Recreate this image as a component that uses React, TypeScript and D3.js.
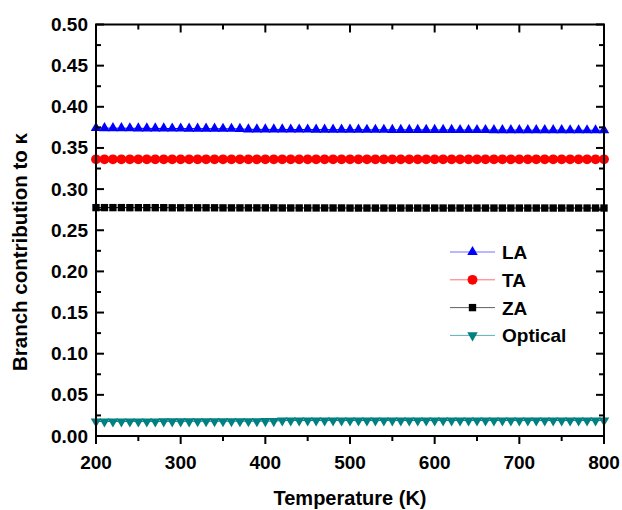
import { useEffect, useRef } from 'react';
import * as d3 from 'd3';

// Temperature points (K), one every 10 K
const temperature = [
  200, 210, 220, 230, 240, 250, 260, 270, 280, 290,
  300, 310, 320, 330, 340, 350, 360, 370, 380, 390,
  400, 410, 420, 430, 440, 450, 460, 470, 480, 490,
  500, 510, 520, 530, 540, 550, 560, 570, 580, 590,
  600, 610, 620, 630, 640, 650, 660, 670, 680, 690,
  700, 710, 720, 730, 740, 750, 760, 770, 780, 790,
  800,
];

const laValues = [
  0.3742, 0.3741, 0.3740, 0.3740, 0.3739, 0.3738, 0.3738, 0.3737, 0.3737, 0.3736,
  0.3736, 0.3735, 0.3735, 0.3734, 0.3734, 0.3733, 0.3733, 0.3732, 0.3726, 0.3726,
  0.3725, 0.3725, 0.3725, 0.3724, 0.3724, 0.3724, 0.3723, 0.3723, 0.3723, 0.3722,
  0.3722, 0.3722, 0.3721, 0.3721, 0.3721, 0.3720, 0.3720, 0.3720, 0.3720, 0.3719,
  0.3719, 0.3719, 0.3719, 0.3718, 0.3718, 0.3718, 0.3718, 0.3717, 0.3717, 0.3717,
  0.3717, 0.3716, 0.3716, 0.3716, 0.3716, 0.3716, 0.3715, 0.3715, 0.3715, 0.3715,
  0.3715,
];

const taValues = [
  0.3362, 0.3362, 0.3362, 0.3362, 0.3362, 0.3362, 0.3362, 0.3362, 0.3362, 0.3362,
  0.3362, 0.3362, 0.3362, 0.3362, 0.3362, 0.3362, 0.3362, 0.3362, 0.3362, 0.3362,
  0.3362, 0.3362, 0.3362, 0.3362, 0.3362, 0.3362, 0.3362, 0.3362, 0.3362, 0.3362,
  0.3362, 0.3362, 0.3362, 0.3362, 0.3362, 0.3362, 0.3362, 0.3362, 0.3362, 0.3362,
  0.3362, 0.3362, 0.3362, 0.3362, 0.3362, 0.3362, 0.3362, 0.3362, 0.3362, 0.3362,
  0.3362, 0.3362, 0.3362, 0.3362, 0.3362, 0.3362, 0.3362, 0.3362, 0.3362, 0.3362,
  0.3362,
];

const zaValues = [
  0.2775, 0.2775, 0.2775, 0.2775, 0.2774, 0.2774, 0.2774, 0.2774, 0.2774, 0.2773,
  0.2773, 0.2773, 0.2773, 0.2773, 0.2773, 0.2772, 0.2772, 0.2772, 0.2772, 0.2772,
  0.2772, 0.2772, 0.2771, 0.2771, 0.2771, 0.2771, 0.2771, 0.2771, 0.2771, 0.2771,
  0.2770, 0.2770, 0.2770, 0.2770, 0.2770, 0.2770, 0.2770, 0.2770, 0.2770, 0.2770,
  0.2770, 0.2770, 0.2770, 0.2770, 0.2770, 0.2770, 0.2770, 0.2770, 0.2770, 0.2770,
  0.2770, 0.2770, 0.2770, 0.2770, 0.2770, 0.2770, 0.2770, 0.2770, 0.2770, 0.2770,
  0.2770,
];

const opticalValues = [
  0.0176, 0.0176, 0.0176, 0.0176, 0.0177, 0.0177, 0.0177, 0.0177, 0.0178, 0.0178,
  0.0178, 0.0178, 0.0179, 0.0179, 0.0179, 0.0179, 0.0180, 0.0180, 0.0180, 0.0180,
  0.0181, 0.0181, 0.0188, 0.0188, 0.0188, 0.0188, 0.0188, 0.0188, 0.0188, 0.0188,
  0.0188, 0.0188, 0.0188, 0.0188, 0.0188, 0.0188, 0.0188, 0.0188, 0.0188, 0.0188,
  0.0188, 0.0188, 0.0188, 0.0188, 0.0188, 0.0188, 0.0188, 0.0188, 0.0188, 0.0188,
  0.0188, 0.0188, 0.0188, 0.0188, 0.0188, 0.0188, 0.0188, 0.0188, 0.0188, 0.0188,
  0.0188,
];

const xTicks = [200, 300, 400, 500, 600, 700, 800];
const xMinorTicks = [250, 350, 450, 550, 650, 750];
const yTicks = [0, 0.05, 0.1, 0.15, 0.2, 0.25, 0.3, 0.35, 0.4, 0.45, 0.5];
const yMinorTicks = [0.025, 0.075, 0.125, 0.175, 0.225, 0.275, 0.325, 0.375, 0.425, 0.475];

const series = [
  { name: 'LA', values: laValues, color: '#0000ff', legendLine: '#7070ff', marker: 'up' },
  { name: 'TA', values: taValues, color: '#ff0000', legendLine: '#ff7070', marker: 'circle' },
  { name: 'ZA', values: zaValues, color: '#000000', legendLine: '#606060', marker: 'square' },
  { name: 'Optical', values: opticalValues, color: '#008080', legendLine: '#60b0b0', marker: 'down' },
];

const W = 622;
const H = 510;

export default function App() {
  const svgRef = useRef<SVGSVGElement>(null);

  useEffect(() => {
    if (!svgRef.current) return;
    const svg = d3.select(svgRef.current);
    svg.selectAll('*').remove();

    const x = d3.scaleLinear().domain([200, 800]).range([96, 604]);
    const y = d3.scaleLinear().domain([0, 0.5]).range([436, 24.5]);
    const font = "'Liberation Sans', Arial, sans-serif";

    const symbolPath = (kind: string) => {
      switch (kind) {
        case 'up': return d3.symbol().type(d3.symbolTriangle).size(48)() as string;
        case 'down': return d3.symbol().type(d3.symbolTriangle).size(48)() as string;
        case 'circle': return d3.symbol().type(d3.symbolCircle).size(76)() as string;
        default: return d3.symbol().type(d3.symbolSquare).size(54)() as string;
      }
    };
    const symbolTransform = (kind: string, px: number, py: number) =>
      kind === 'down' ? `translate(${px},${py}) rotate(180)` : `translate(${px},${py})`;

    // Series
    series.forEach(s => {
      const line = d3.line<number>()
        .x((_, i) => x(temperature[i]))
        .y(d => y(d));
      svg.append('path')
        .attr('d', line(s.values))
        .attr('fill', 'none')
        .attr('stroke', s.color)
        .attr('stroke-width', 1);
      const path = symbolPath(s.marker);
      svg.append('g').selectAll('path')
        .data(s.values)
        .enter()
        .append('path')
        .attr('d', path)
        .attr('transform', (d, i) => symbolTransform(s.marker, x(temperature[i]), y(d)))
        .attr('fill', s.color);
    });

    // Frame
    const axes = svg.append('g').attr('stroke', '#000').attr('stroke-width', 2).attr('fill', 'none');
    axes.append('rect')
      .attr('x', x(200)).attr('y', y(0.5))
      .attr('width', x(800) - x(200)).attr('height', y(0) - y(0.5));

    // Bottom ticks (outward), top ticks (inward)
    xTicks.forEach(t => {
      axes.append('line').attr('x1', x(t)).attr('x2', x(t)).attr('y1', y(0)).attr('y2', y(0) + 8);
      axes.append('line').attr('x1', x(t)).attr('x2', x(t)).attr('y1', y(0.5)).attr('y2', y(0.5) + 8);
    });
    xMinorTicks.forEach(t => {
      axes.append('line').attr('x1', x(t)).attr('x2', x(t)).attr('y1', y(0)).attr('y2', y(0) + 5);
      axes.append('line').attr('x1', x(t)).attr('x2', x(t)).attr('y1', y(0.5)).attr('y2', y(0.5) + 5);
    });
    // Left and right ticks (inward)
    yTicks.forEach(t => {
      axes.append('line').attr('x1', x(200)).attr('x2', x(200) + 8).attr('y1', y(t)).attr('y2', y(t));
      axes.append('line').attr('x1', x(800)).attr('x2', x(800) - 8).attr('y1', y(t)).attr('y2', y(t));
    });
    yMinorTicks.forEach(t => {
      axes.append('line').attr('x1', x(200)).attr('x2', x(200) + 5).attr('y1', y(t)).attr('y2', y(t));
      axes.append('line').attr('x1', x(800)).attr('x2', x(800) - 5).attr('y1', y(t)).attr('y2', y(t));
    });

    // Tick labels
    svg.append('g').selectAll('text')
      .data(xTicks)
      .enter()
      .append('text')
      .attr('x', d => x(d))
      .attr('y', 469)
      .attr('text-anchor', 'middle')
      .attr('font-family', font)
      .attr('font-weight', 'bold')
      .attr('font-size', 19)
      .text(d => d);

    svg.append('g').selectAll('text')
      .data(yTicks)
      .enter()
      .append('text')
      .attr('x', 88)
      .attr('y', d => y(d) + 6.5)
      .attr('text-anchor', 'end')
      .attr('font-family', font)
      .attr('font-weight', 'bold')
      .attr('font-size', 19)
      .text(d => d3.format('.2f')(d));

    // Axis titles
    svg.append('text')
      .attr('x', 350)
      .attr('y', 505)
      .attr('text-anchor', 'middle')
      .attr('font-family', font)
      .attr('font-weight', 'bold')
      .attr('font-size', 20)
      .text('Temperature (K)');

    svg.append('text')
      .attr('transform', `translate(27,252) rotate(-90)`)
      .attr('text-anchor', 'middle')
      .attr('font-family', font)
      .attr('font-weight', 'bold')
      .attr('font-size', 20.5)
      .text('Branch contribution to κ');

    // Legend
    const legend = svg.append('g');
    series.forEach((s, i) => {
      const ly = 252 + i * 27.8;
      legend.append('line')
        .attr('x1', 450).attr('x2', 495).attr('y1', ly).attr('y2', ly)
        .attr('stroke', s.legendLine).attr('stroke-width', 1);
      legend.append('path')
        .attr('d', symbolPath(s.marker))
        .attr('transform', symbolTransform(s.marker, 472.5, ly))
        .attr('fill', s.color);
      legend.append('text')
        .attr('x', 502)
        .attr('y', ly + 7)
        .attr('font-family', font)
        .attr('font-weight', 'bold')
        .attr('font-size', 19)
        .text(s.name);
    });
  }, []);

  return (
    <svg
      ref={svgRef}
      width={W}
      height={H}
      style={{ position: 'absolute', left: 0, top: 0, background: '#fff' }}
    />
  );
}
